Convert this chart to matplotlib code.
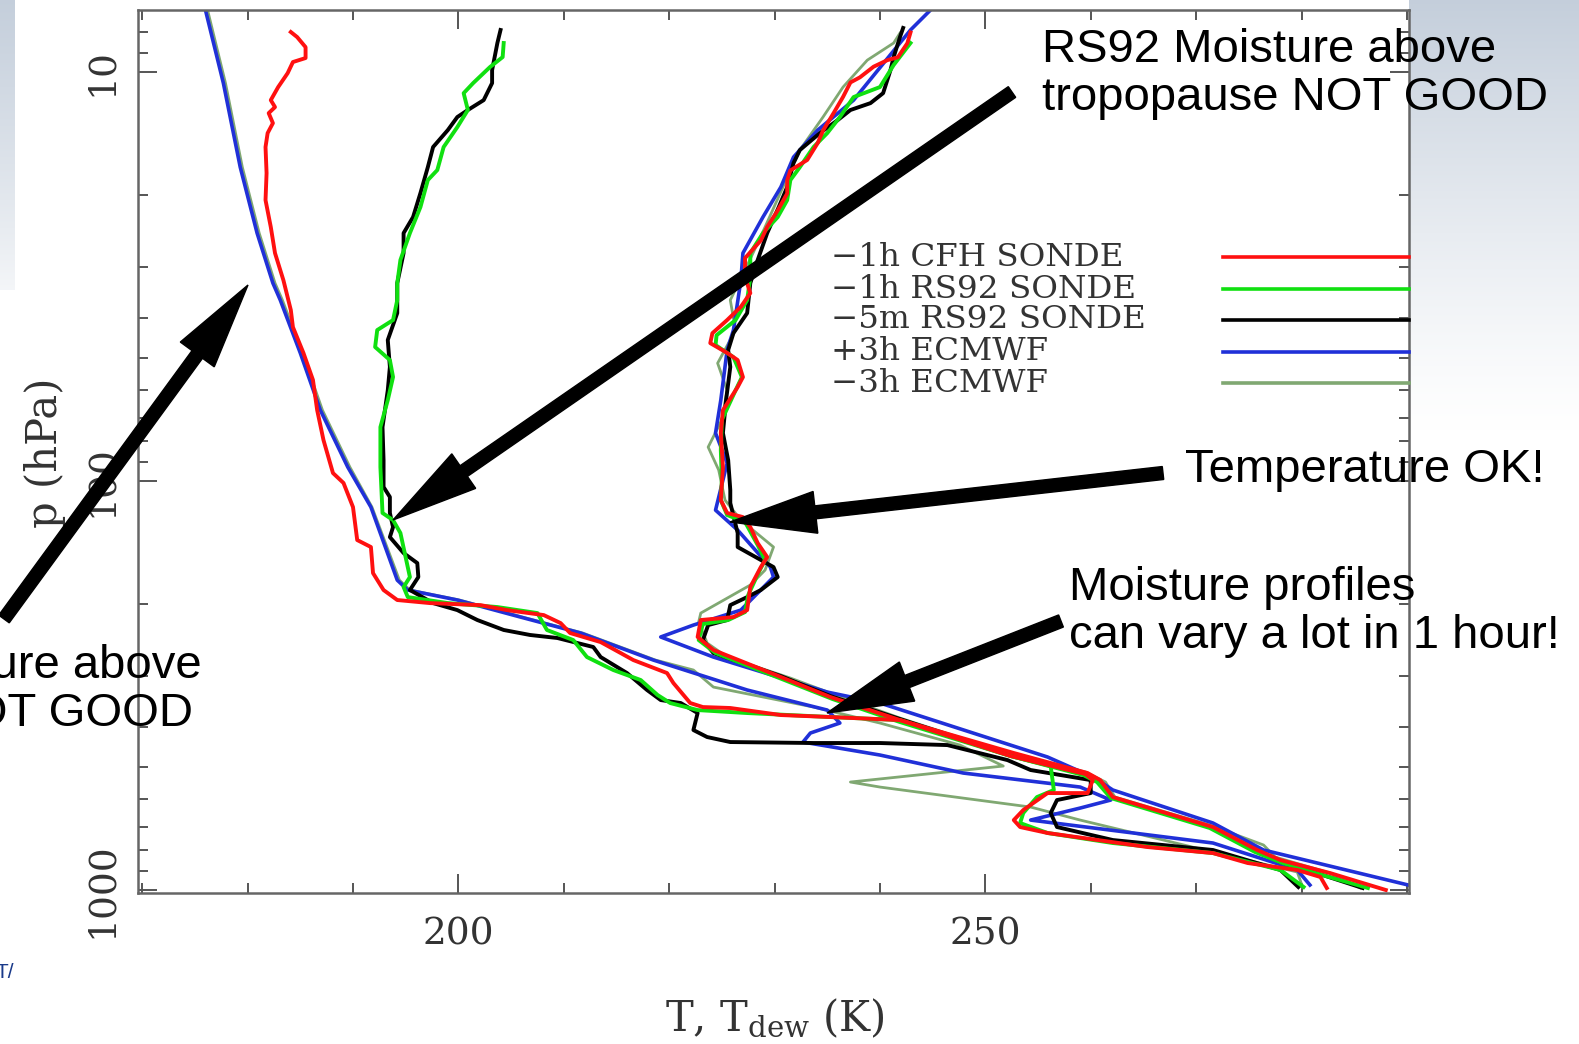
import numpy as np
import matplotlib.pyplot as plt
from matplotlib.transforms import Affine2D
from matplotlib.patches import FancyArrow
from matplotlib.lines import Line2D

plt.rcParams['font.family'] = 'DejaVu Serif'
plt.rcParams['mathtext.fontset'] = 'dejavuserif'

# ---- profiles: temperature T (K) and dew point Td (K) against pressure (hPa) ----
# -1h CFH sonde (red)
cfh_T = [242.9, 242.6, 241.7, 240.7, 239.4, 238.1, 237.2, 236.5, 235.6, 234.6, 234.1, 233.1, 231.5, 231.2,
         231.2, 230.3, 229.3, 228.7, 227.2, 227.2, 227.7, 226.8, 225.5, 224.1, 223.9, 225.5, 226.5, 227.0,
         226.5, 225.1, 224.9, 225.1, 224.9, 225.5, 227.0, 227.7, 228.4, 229.3, 228.7, 227.7, 227.4, 226.1,
         223.0, 222.7, 224.2, 230.6, 235.3, 241.9, 252.7, 259.7, 260.9, 262.1, 271.6, 275.8, 278.0, 282.7, 288.0]
cfh_p = [8.0, 8.5, 9.2, 9.35, 9.7, 10.3, 10.6, 11.5, 12.6, 13.9, 14.9, 16.4, 17.4, 18.4, 19.8, 21.8, 23.9,
         25.8, 28.5, 31.7, 34.7, 37.5, 40.4, 43.5, 46.0, 48.6, 50.6, 55.7, 58.9, 67.1, 76.3, 92.4, 111.3,
         119.7, 122.5, 129.6, 141.8, 153.4, 162.3, 181.6, 206.8, 215.1, 218.7, 240.6, 258.9, 301.4, 337.4,
         384.1, 462.4, 517.6, 538.5, 592.6, 701.5, 798.4, 844.8, 908.9, 1000]
cfh_Td = [184.1, 184.7, 185.5, 185.5, 184.3, 183.8, 182.9, 182.2, 182.6, 182.0, 182.4, 181.9, 181.7, 181.8,
          181.7, 182.2, 182.6, 183.4, 184.1, 184.3, 185.3, 186.2, 186.6, 187.2, 188.1, 189.1, 190.0, 190.4,
          191.7, 191.9, 192.9, 194.2, 197.3, 202.1, 204.6, 208.1, 209.7, 210.6, 213.5, 215.4, 216.6, 219.8,
          220.4, 222.0, 223.2, 225.8, 230.6, 235.3, 241.9, 252.4, 259.5, 260.2, 259.7, 255.9, 253.6, 252.7,
          253.3, 255.9, 265.4, 271.6, 274.9, 279.6, 281.8, 282.4]
cfh_pd = [7.98, 8.21, 8.69, 9.24, 9.45, 10.06, 10.88, 11.71, 12.18, 12.6, 13.33, 14.10, 15.25, 17.66, 20.56,
          23.93, 27.71, 32.3, 38.18, 42.03, 48.64, 56.6, 67.07, 79.4, 95.6, 101.1, 115.8, 139.4, 145.0,
          167.9, 184.7, 195.4, 198.8, 201.1, 206.8, 212.7, 222.5, 235.3, 247.6, 263.4, 274.0, 294.8, 311.8,
          349.0, 357.0, 358.9, 373.4, 377.6, 384.1, 470.3, 520.5, 538.5, 579.4, 579.4, 637.5, 674.5, 701.5,
          725.4, 785.2, 812.2, 859.1, 893.5, 929.5, 988.8]

# -1h RS92 sonde (green)
rs1_T = [242.9, 241.3, 240.0, 237.5, 236.2, 235.0, 233.7, 232.4, 231.5, 231.2, 230.3, 228.9, 227.7, 227.7,
         227.4, 226.3, 224.5, 224.4, 226.1, 226.9, 226.3, 225.0, 224.9, 225.0, 224.9, 225.5, 227.2, 228.4,
         229.1, 228.5, 227.5, 227.2, 225.6, 223.2, 222.8, 224.4, 230.7, 235.5, 241.9, 252.4, 259.3, 260.6,
         261.9, 271.3, 275.6, 278.2, 282.3, 286.3]
rs1_p = [8.49, 9.61, 10.88, 11.51, 12.88, 14.10, 15.25, 17.08, 18.37, 20.56, 22.62, 24.76, 27.71, 31.72,
         36.1, 40.4, 44.0, 46.5, 49.8, 55.7, 60.0, 70.9, 84.0, 99.4, 111.3, 121.1, 125.9, 143.4, 156.1,
         167.0, 190.0, 209.1, 218.7, 223.7, 244.8, 263.4, 304.9, 341.2, 388.4, 470.3, 523.4, 544.5, 595.7,
         705.4, 807.6, 859.1, 924.2, 988.8]
rs1_Td = [204.3, 204.2, 203.0, 201.4, 200.5, 200.9, 199.9, 198.6, 198.0, 197.1, 196.4, 195.4, 194.5, 194.2,
          194.2, 193.8, 192.3, 192.1, 193.5, 193.8, 193.3, 192.6, 192.6, 192.8, 193.8, 194.5, 195.4, 194.8,
          195.2, 199.0, 203.7, 207.5, 208.4, 210.9, 212.2, 214.7, 217.3, 218.9, 220.1, 222.7, 227.4, 235.3,
          241.9, 252.4, 256.2, 256.5, 254.9, 253.6, 253.3, 255.9, 262.1, 271.6, 278.0, 280.2]
rs1_pd = [8.49, 9.19, 9.72, 10.64, 11.26, 12.38, 13.63, 15.25, 17.36, 18.37, 21.38, 24.76, 28.8, 32.81, 36.1,
          40.4, 42.74, 47.02, 50.6, 55.68, 63.4, 73.8, 92.4, 119.7, 124.6, 134.0, 171.7, 181.6, 192.2,
          198.8, 203.3, 210.3, 231.3, 244.8, 269.4, 289.8, 306.6, 333.6, 349.0, 363.1, 369.2, 377.6, 384.1,
          470.3, 497.6, 569.5, 592.6, 648.3, 685.8, 725.4, 767.6, 812.2, 893.5, 983.3]

# -5m RS92 sonde (black)
rs5_T = [242.2, 241.9, 241.3, 241.0, 240.3, 239.1, 237.2, 236.0, 234.3, 232.4, 231.8, 231.2, 230.4, 229.3,
         228.4, 227.7, 227.4, 226.1, 225.6, 225.8, 225.4, 225.1, 225.6, 225.8, 225.8, 226.5, 226.5, 229.9,
         230.3, 228.7, 227.4, 225.8, 225.5, 223.7, 223.2, 224.2, 230.6, 235.3, 241.9, 252.4, 259.5, 260.7,
         261.9, 271.3, 275.6, 278.0, 282.3, 285.8]
rs5_p = [7.80, 8.21, 9.19, 9.89, 11.26, 11.91, 12.38, 13.10, 14.10, 15.51, 16.69, 19.1, 21.38, 24.76, 28.8,
         32.81, 38.84, 43.47, 47.82, 52.6, 63.4, 76.3, 88.9, 105.2, 113.2, 134.0, 145.0, 162.3, 171.7,
         184.7, 192.2, 201.1, 218.7, 225.0, 244.8, 263.4, 299.9, 335.5, 381.9, 467.7, 520.5, 541.5, 592.6,
         701.5, 798.4, 854.2, 924.2, 988.8]
rs5_Td = [204.0, 203.7, 203.2, 203.2, 202.4, 200.9, 199.9, 199.0, 197.6, 197.1, 196.4, 195.7, 194.8, 194.8,
          194.2, 194.2, 193.3, 193.5, 193.3, 192.8, 192.9, 192.9, 193.5, 193.5, 193.8, 193.5, 194.8, 196.1,
          196.2, 195.4, 197.6, 199.9, 201.8, 204.3, 206.8, 209.4, 212.8, 213.5, 216.0, 217.9, 219.2, 221.1,
          222.7, 222.3, 223.6, 225.8, 233.7, 240.0, 246.4, 252.1, 254.3, 260.0, 260.0, 256.8, 256.2, 256.8,
          262.1, 271.6, 278.0, 279.7]
rs5_pd = [7.89, 8.49, 9.89, 10.64, 11.71, 12.38, 12.88, 13.86, 15.25, 17.08, 19.76, 22.62, 24.76, 27.71,
          32.81, 38.84, 45.2, 52.6, 60.0, 73.8, 88.9, 103.4, 109.4, 119.7, 129.6, 137.1, 150.0, 158.7,
          171.7, 184.7, 198.8, 206.8, 218.7, 231.3, 237.9, 242.0, 254.6, 269.4, 294.8, 324.3, 343.2, 349.0,
          369.2, 406.3, 422.6, 434.7, 437.1, 437.1, 442.2, 481.2, 508.9, 538.5, 579.4, 602.6, 648.3, 701.5,
          754.8, 798.4, 893.5, 983.3]

# +3h ECMWF (blue)
ecp3_T = [244.8, 242.9, 237.5, 234.1, 231.8, 230.6, 228.9, 227.0, 226.8, 226.1, 225.5, 224.9, 224.4, 225.5,
          224.4, 226.5, 229.6, 229.9, 226.8, 222.3, 219.2, 224.2, 235.0, 240.0, 255.9, 260.2, 262.1, 271.6,
          276.4, 291.3]
ecp3_p = [7.05, 7.89, 11.71, 13.86, 16.14, 19.1, 22.62, 27.71, 32.3, 42.74, 47.82, 63.4, 76.3, 90.4, 117.8,
          131.8, 162.3, 171.7, 206.8, 225.0, 240.6, 269.4, 328.1, 349.0, 472.9, 529.4, 569.5, 685.8, 798.4,
          988.8]
ecp3_Td = [176.0, 177.7, 179.3, 180.9, 182.4, 183.1, 185.0, 186.9, 189.5, 191.7, 194.2, 195.2, 199.9, 205.9,
           211.6, 218.5, 227.4, 235.0, 236.2, 233.4, 232.7, 240.0, 247.9, 259.0, 261.9, 259.0, 254.3, 271.6,
           279.6, 280.8]
ecp3_pd = [7.05, 10.64, 17.08, 24.76, 32.81, 36.1, 48.64, 67.07, 92.4, 115.8, 174.7, 184.7, 195.4, 215.1,
           235.3, 274.0, 324.3, 363.1, 390.6, 413.2, 434.7, 467.7, 517.6, 560.1, 602.6, 630.4, 674.5, 767.6,
           893.5, 972.3]

# -3h ECMWF (grey green)
ecm3_T = [241.9, 241.3, 238.8, 236.5, 234.6, 232.4, 230.8, 229.1, 227.2, 225.8, 226.3, 224.6, 225.5, 225.0,
          223.7, 224.7, 225.3, 226.8, 229.9, 229.1, 227.7, 223.0, 222.8, 223.6, 225.5, 231.5, 235.8, 241.9,
          252.4, 259.5, 261.4, 262.3, 271.3, 276.4, 277.5, 282.7, 285.6]
ecm3_p = [8.03, 8.49, 9.35, 10.88, 12.88, 15.51, 19.1, 23.93, 30.5, 36.1, 42.74, 51.5, 60.0, 70.9, 82.6,
          94.0, 111.3, 124.6, 145.0, 165.1, 179.6, 210.3, 221.1, 248.9, 269.4, 303.2, 333.6, 379.8, 465.1,
          514.6, 544.5, 592.6, 693.6, 776.3, 830.6, 908.9, 988.8]
ecm3_Td = [176.2, 177.9, 179.5, 181.1, 182.6, 183.3, 185.2, 187.1, 189.7, 191.8, 194.4, 195.4, 200.1, 206.1,
           211.8, 218.7, 222.3, 224.2, 233.7, 240.0, 247.6, 251.7, 237.2, 240.0, 254.3, 259.0, 265.7, 271.6,
           279.6, 280.1]
ecm3_pd = [7.05, 10.64, 17.08, 24.76, 32.81, 36.1, 48.64, 67.07, 92.4, 115.8, 174.7, 184.7, 195.4, 215.1,
           235.3, 274.0, 289.8, 319.0, 357.0, 390.6, 442.2, 497.6, 544.5, 560.1, 626.9, 674.5, 742.0, 807.6,
           903.6, 983.3]

labels = ['\u22121h CFH SONDE', '\u22121h RS92 SONDE', '\u22125m RS92 SONDE', '+3h ECMWF', '\u22123h ECMWF']
colors = ['#ff1010', '#10e010', '#000000', '#2030d8', '#80a872']

W, H = 1579, 1044
fig = plt.figure(figsize=(W / 100, H / 100), dpi=100)
PX = Affine2D().scale(1, -1).translate(0, H)   # top-left pixel coordinates

# slide background (bluish corners)
bg = fig.add_axes([0, 0, 1, 1], zorder=-10)
img = np.ones((H, W, 3))
tint = 1 - np.array([0.77, 0.81, 0.86])
yy = np.arange(H)[:, None, None]
img[:, 1409:, :] = 1 - tint * np.clip(1 - yy / 430, 0, 1) ** 1.2
img[:290, :15, :] = 1 - tint * np.clip(1 - yy[:290] / 330, 0, 1) ** 0.8
bg.imshow(img, aspect='auto', interpolation='bilinear')
bg.axis('off')

ax = fig.add_axes([138 / W, (H - 893) / H, (1409 - 138) / W, (893 - 10) / H])
ax.set_yscale('log')

ax.plot(ecm3_T, ecm3_p, color=colors[4], lw=2.0)
ax.plot(ecm3_Td, ecm3_pd, color=colors[4], lw=2.0)
ax.plot(ecp3_T, ecp3_p, color=colors[3], lw=2.6)
ax.plot(ecp3_Td, ecp3_pd, color=colors[3], lw=2.6)
ax.plot(rs5_T, rs5_p, color=colors[2], lw=2.8)
ax.plot(rs5_Td, rs5_pd, color=colors[2], lw=2.8)
ax.plot(rs1_T, rs1_p, color=colors[1], lw=2.8)
ax.plot(rs1_Td, rs1_pd, color=colors[1], lw=2.8)
ax.plot(cfh_T, cfh_p, color=colors[0], lw=2.8)
ax.plot(cfh_Td, cfh_pd, color=colors[0], lw=2.8)

ax.set_xticks([200, 250])
ax.set_xticks(np.arange(170, 291, 10), minor=True)
ax.set_yticks([10, 100, 1000])
ax.set_yticks([8, 9] + [m * d for d in (10, 100) for m in range(2, 10)], minor=True)
ax.set_xlim(169.6, 290.2)
ax.set_ylim(1017, 7.05)
ax.set_xticklabels(['200', '250'], fontsize=27)
ax.set_yticklabels(['10', '100', '1000'], fontsize=27, rotation=90, va='center')
ax.tick_params(which='both', direction='in', top=True, right=True, color='#555555',
               labelcolor='#333333', width=1.4)
ax.tick_params(which='major', length=14)
ax.tick_params(which='minor', length=7)
ax.tick_params(axis='x', pad=17)
ax.tick_params(axis='y', pad=13)
for s in ax.spines.values():
    s.set_color('#666666')
    s.set_linewidth(1.8)

ax.set_xlabel('T, T$_{\\mathrm{dew}}$ (K)', fontsize=30, color='#333333')
ax.xaxis.set_label_coords((775 - 138) / 1271, (893 - 1019) / 883)
ax.xaxis.label.set_va('center')
ax.set_ylabel('p (hPa)', fontsize=30, color='#333333')
ax.yaxis.set_label_coords((45 - 138) / 1271, (893 - 453) / 883)
ax.yaxis.label.set_va('center')

# legend drawn in the style of the original plot
for lab, c, y in zip(labels, colors, [257, 289, 320, 352, 383]):
    fig.text(831, y, lab, transform=PX, fontsize=23.4, va='center', ha='left', color='#333333')
    fig.add_artist(Line2D([1223, 1409], [y, y], transform=PX, color=c, lw=2.6))

# slide annotations
note = dict(transform=PX, family='Liberation Sans', fontsize=34, color='black',
            ha='left', va='center', linespacing=1.12, zorder=20)
fig.text(1042, 74, 'RS92 Moisture above\ntropopause NOT GOOD', **note)
fig.text(1185, 470, 'Temperature OK!', **note)
fig.text(1069, 612, 'Moisture profiles\ncan vary a lot in 1 hour!', **note)
fig.text(-313, 690, 'ECMWF Moisture above\ntropopause NOT GOOD', **note)

arrows = [((1012, 92), (393, 520)),
          ((1163, 473), (730, 522)),
          ((1061, 621), (827, 713)),
          ((4, 619), (248, 285))]
for (x0, y0), (x1, y1) in arrows:
    fig.add_artist(FancyArrow(x0, y0, x1 - x0, y1 - y0, width=13, head_width=42, head_length=86,
                              length_includes_head=True, color='black', transform=PX, zorder=21))

fig.text(14, 972, 'T/', transform=PX, family='Liberation Sans', fontsize=15, color='#1a3a8a',
         ha='right', va='center')

fig.savefig('out.png', dpi=100)
